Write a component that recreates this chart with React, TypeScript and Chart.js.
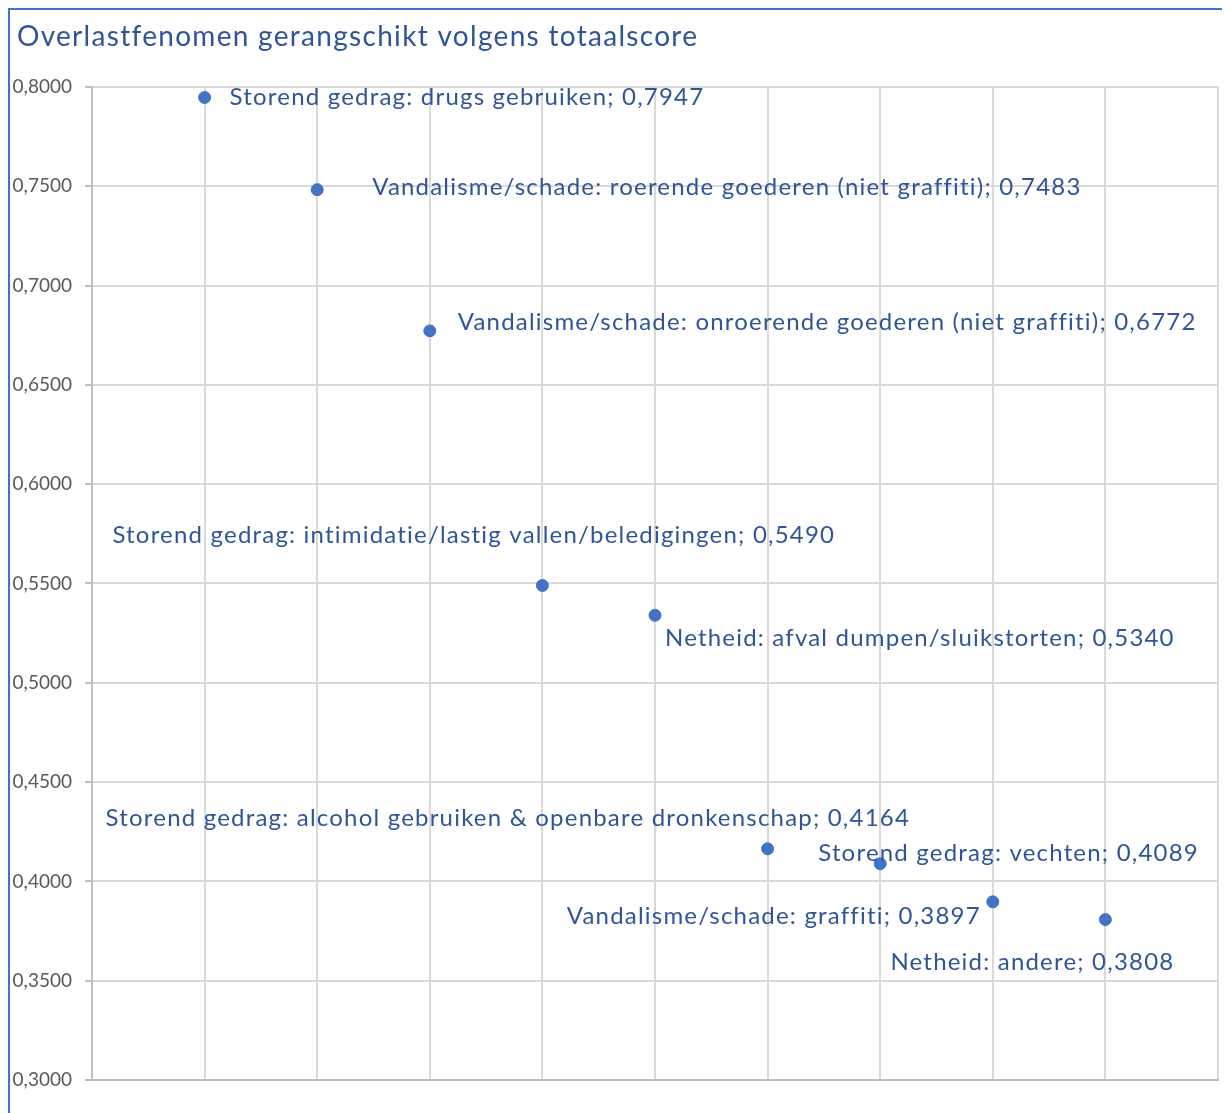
import React, { useEffect, useRef } from "react";
import { Chart, registerables } from "chart.js";

Chart.register(...registerables);

const TITLE = "Overlastfenomen gerangschikt volgens totaalscore";
const categories = [
  "Storend gedrag: drugs gebruiken",
  "Vandalisme/schade: roerende goederen (niet graffiti)",
  "Vandalisme/schade: onroerende goederen (niet graffiti)",
  "Storend gedrag: intimidatie/lastig vallen/beledigingen",
  "Netheid: afval dumpen/sluikstorten",
  "Storend gedrag: alcohol gebruiken & openbare dronkenschap",
  "Storend gedrag: vechten",
  "Vandalisme/schade: graffiti",
  "Netheid: andere",
];
const xValues = [1, 2, 3, 4, 5, 6, 7, 8, 9];
const scores = [0.7947, 0.7483, 0.6772, 0.549, 0.534, 0.4164, 0.4089, 0.3897, 0.3808];
// label offsets (pixels) relative to each point: left edge x, center y
const labelDx = [25, 55, 28, -430, 10, -662, -62, -426, -215];
const labelDy = [0, -2, -9, -50, 23, -31, -10, 14, 43];

const FONT = "Lato, 'Open Sans', sans-serif";
const BLUE_TEXT = "#2F5597";

const fmt = (v: number) => v.toFixed(4).replace(".", ",");

const labelPlugin = {
  id: "pointLabels",
  afterDatasetsDraw(chart: any) {
    const ctx = chart.ctx;
    const meta = chart.getDatasetMeta(0);
    ctx.save();
    ctx.font = `24px ${FONT}`;
    (ctx as any).letterSpacing = "1.2px";
    ctx.fillStyle = BLUE_TEXT;
    ctx.textAlign = "left";
    ctx.textBaseline = "middle";
    meta.data.forEach((el: any, i: number) => {
      const text = `${categories[i]}; ${fmt(scores[i])}`;
      ctx.fillText(text, el.x + labelDx[i], el.y + labelDy[i]);
    });
    ctx.restore();
  },
};

const titlePlugin = {
  id: "leftTitle",
  afterDraw(chart: any) {
    const ctx = chart.ctx;
    ctx.save();
    ctx.font = `28px ${FONT}`;
    (ctx as any).letterSpacing = "1.3px";
    ctx.fillStyle = BLUE_TEXT;
    ctx.textAlign = "left";
    ctx.textBaseline = "middle";
    ctx.fillText(TITLE, 7, 27);
    ctx.restore();
  },
};

export default function App() {
  const ref = useRef<HTMLCanvasElement>(null);
  useEffect(() => {
    document.body.style.overflow = "hidden";
    const chart = new Chart(ref.current!, {
      type: "scatter",
      data: {
        datasets: [
          {
            data: xValues.map((x, i) => ({ x, y: scores[i] })),
            backgroundColor: "#4472C4",
            borderColor: "#4472C4",
            pointRadius: 6,
            pointHoverRadius: 6,
          },
        ],
      },
      options: {
        responsive: false,
        animation: false,
        layout: { padding: { top: 77, right: 12, bottom: 33, left: 0 } },
        plugins: {
          legend: { display: false },
          title: { display: false },
          tooltip: { enabled: false },
        },
        scales: {
          x: {
            type: "linear",
            min: 0,
            max: 10,
            ticks: { display: false, stepSize: 1 },
            grid: { color: "#d9d9d9", lineWidth: 2, drawTicks: false },
            border: { color: "#bfbfbf", width: 2 },
            afterFit: (s: any) => {
              s.height = 0;
            },
          },
          y: {
            min: 0.3,
            max: 0.8,
            ticks: {
              stepSize: 0.05,
              padding: 13,
              color: "#595959",
              font: { family: FONT, size: 19 },
              callback: (v: any) => fmt(Number(v)),
            },
            grid: { color: "#d9d9d9", lineWidth: 2, tickLength: 7, tickColor: "#bfbfbf" },
            border: { color: "#bfbfbf", width: 2 },
            afterFit: (s: any) => {
              s.width = 82;
            },
          },
        },
      },
      plugins: [labelPlugin, titlePlugin],
    });
    return () => chart.destroy();
  }, []);
  return (
    <div
      style={{
        position: "relative",
        width: 1222,
        height: 1105,
        borderTop: "2px solid #4472C4",
        borderLeft: "2px solid #4472C4",
        boxSizing: "border-box",
        overflow: "hidden",
        background: "#fff",
      }}
    >
      <canvas ref={ref} width={1220} height={1103} style={{ display: "block" }} />
    </div>
  );
}
